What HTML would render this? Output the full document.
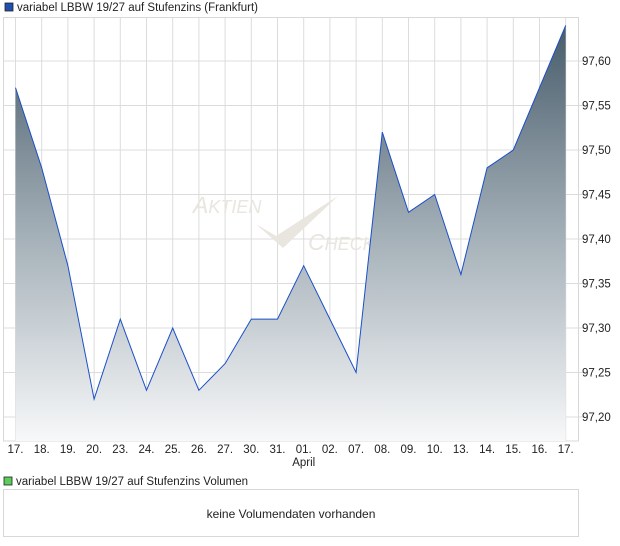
<!DOCTYPE html>
<html><head><meta charset="utf-8"><style>
body{margin:0;background:#fff;}
svg{display:block;font-family:"Liberation Sans",sans-serif;}
</style></head><body>
<svg width="620" height="546" viewBox="0 0 620 546">
<defs>
<linearGradient id="g" x1="0" y1="25" x2="0" y2="441" gradientUnits="userSpaceOnUse">
<stop offset="0" stop-color="#485c6b"/>
<stop offset="0.5" stop-color="#a3afb7"/>
<stop offset="1" stop-color="#f7f8f9"/>
</linearGradient>
</defs>
<rect x="0" y="0" width="620" height="546" fill="#fff"/>
<rect x="5" y="3" width="8" height="8" fill="#1f4fb0" stroke="#222" stroke-width="0.8"/>
<text x="17" y="11" font-size="11.5" fill="#222">variabel LBBW 19/27 auf Stufenzins (Frankfurt)</text>
<g stroke="#dcdcdc" stroke-width="1">
<line x1="15.5" y1="17" x2="15.5" y2="441"/><line x1="41.7" y1="17" x2="41.7" y2="441"/><line x1="67.9" y1="17" x2="67.9" y2="441"/><line x1="94.1" y1="17" x2="94.1" y2="441"/><line x1="120.3" y1="17" x2="120.3" y2="441"/><line x1="146.5" y1="17" x2="146.5" y2="441"/><line x1="172.7" y1="17" x2="172.7" y2="441"/><line x1="198.9" y1="17" x2="198.9" y2="441"/><line x1="225.1" y1="17" x2="225.1" y2="441"/><line x1="251.3" y1="17" x2="251.3" y2="441"/><line x1="277.5" y1="17" x2="277.5" y2="441"/><line x1="303.7" y1="17" x2="303.7" y2="441"/><line x1="329.9" y1="17" x2="329.9" y2="441"/><line x1="356.1" y1="17" x2="356.1" y2="441"/><line x1="382.3" y1="17" x2="382.3" y2="441"/><line x1="408.5" y1="17" x2="408.5" y2="441"/><line x1="434.7" y1="17" x2="434.7" y2="441"/><line x1="460.9" y1="17" x2="460.9" y2="441"/><line x1="487.1" y1="17" x2="487.1" y2="441"/><line x1="513.3" y1="17" x2="513.3" y2="441"/><line x1="539.5" y1="17" x2="539.5" y2="441"/><line x1="565.7" y1="17" x2="565.7" y2="441"/>
<line x1="3" y1="61" x2="585" y2="61"/><line x1="3" y1="105.5" x2="585" y2="105.5"/><line x1="3" y1="150" x2="585" y2="150"/><line x1="3" y1="194.5" x2="585" y2="194.5"/><line x1="3" y1="239" x2="585" y2="239"/><line x1="3" y1="283.5" x2="585" y2="283.5"/><line x1="3" y1="328" x2="585" y2="328"/><line x1="3" y1="372.5" x2="585" y2="372.5"/><line x1="3" y1="417" x2="585" y2="417"/>
</g>
<rect x="3.5" y="17.5" width="575" height="423.5" fill="none" stroke="#d8d8d8"/>
<g fill="#e9e5df">
<text x="193" y="213" font-size="23" font-style="italic">A<tspan font-size="18">KTIEN</tspan></text>
<text x="308" y="250" font-size="23" font-style="italic">C<tspan font-size="18">HECK</tspan></text>
<path d="M256 224 L276 236 L338 196 L283 248 Z"/>
</g>
<path d="M15.5 87.7 L41.7 167.8 L67.9 265.7 L94.1 399.2 L120.3 319.1 L146.5 390.3 L172.7 328 L198.9 390.3 L225.1 363.6 L251.3 319.1 L277.5 319.1 L303.7 265.7 L329.9 319.1 L356.1 372.5 L382.3 132.2 L408.5 212.3 L434.7 194.5 L460.9 274.6 L487.1 167.8 L513.3 150 L539.5 87.7 L565.7 25.4 L565.7 441 L15.5 441 Z" fill="url(#g)"/>
<polyline points="15.5,87.7 41.7,167.8 67.9,265.7 94.1,399.2 120.3,319.1 146.5,390.3 172.7,328 198.9,390.3 225.1,363.6 251.3,319.1 277.5,319.1 303.7,265.7 329.9,319.1 356.1,372.5 382.3,132.2 408.5,212.3 434.7,194.5 460.9,274.6 487.1,167.8 513.3,150 539.5,87.7 565.7,25.4" fill="none" stroke="#1a4fc8" stroke-width="1"/>
<g font-size="11.5" fill="#222">
<text x="582" y="65">97,60</text><text x="582" y="109.5">97,55</text><text x="582" y="154">97,50</text><text x="582" y="198.5">97,45</text><text x="582" y="243">97,40</text><text x="582" y="287.5">97,35</text><text x="582" y="332">97,30</text><text x="582" y="376.5">97,25</text><text x="582" y="421">97,20</text>
</g>
<g font-size="11.5" fill="#222" text-anchor="middle">
<text x="15.5" y="453">17.</text><text x="41.7" y="453">18.</text><text x="67.9" y="453">19.</text><text x="94.1" y="453">20.</text><text x="120.3" y="453">23.</text><text x="146.5" y="453">24.</text><text x="172.7" y="453">25.</text><text x="198.9" y="453">26.</text><text x="225.1" y="453">27.</text><text x="251.3" y="453">30.</text><text x="277.5" y="453">31.</text><text x="303.7" y="453">01.</text><text x="329.9" y="453">02.</text><text x="356.1" y="453">07.</text><text x="382.3" y="453">08.</text><text x="408.5" y="453">09.</text><text x="434.7" y="453">10.</text><text x="460.9" y="453">13.</text><text x="487.1" y="453">14.</text><text x="513.3" y="453">15.</text><text x="539.5" y="453">16.</text><text x="565.7" y="453">17.</text>
<text x="303.7" y="466">April</text>
</g>
<rect x="4" y="477" width="8" height="8" fill="#5ccd5c" stroke="#222" stroke-width="0.8"/>
<text x="16" y="485" font-size="11.5" fill="#222">variabel LBBW 19/27 auf Stufenzins Volumen</text>
<rect x="3.5" y="489.5" width="575" height="47" fill="#fff" stroke="#d8d8d8"/>
<text x="291" y="518" font-size="12" fill="#222" text-anchor="middle">keine Volumendaten vorhanden</text>
</svg>
</body></html>
